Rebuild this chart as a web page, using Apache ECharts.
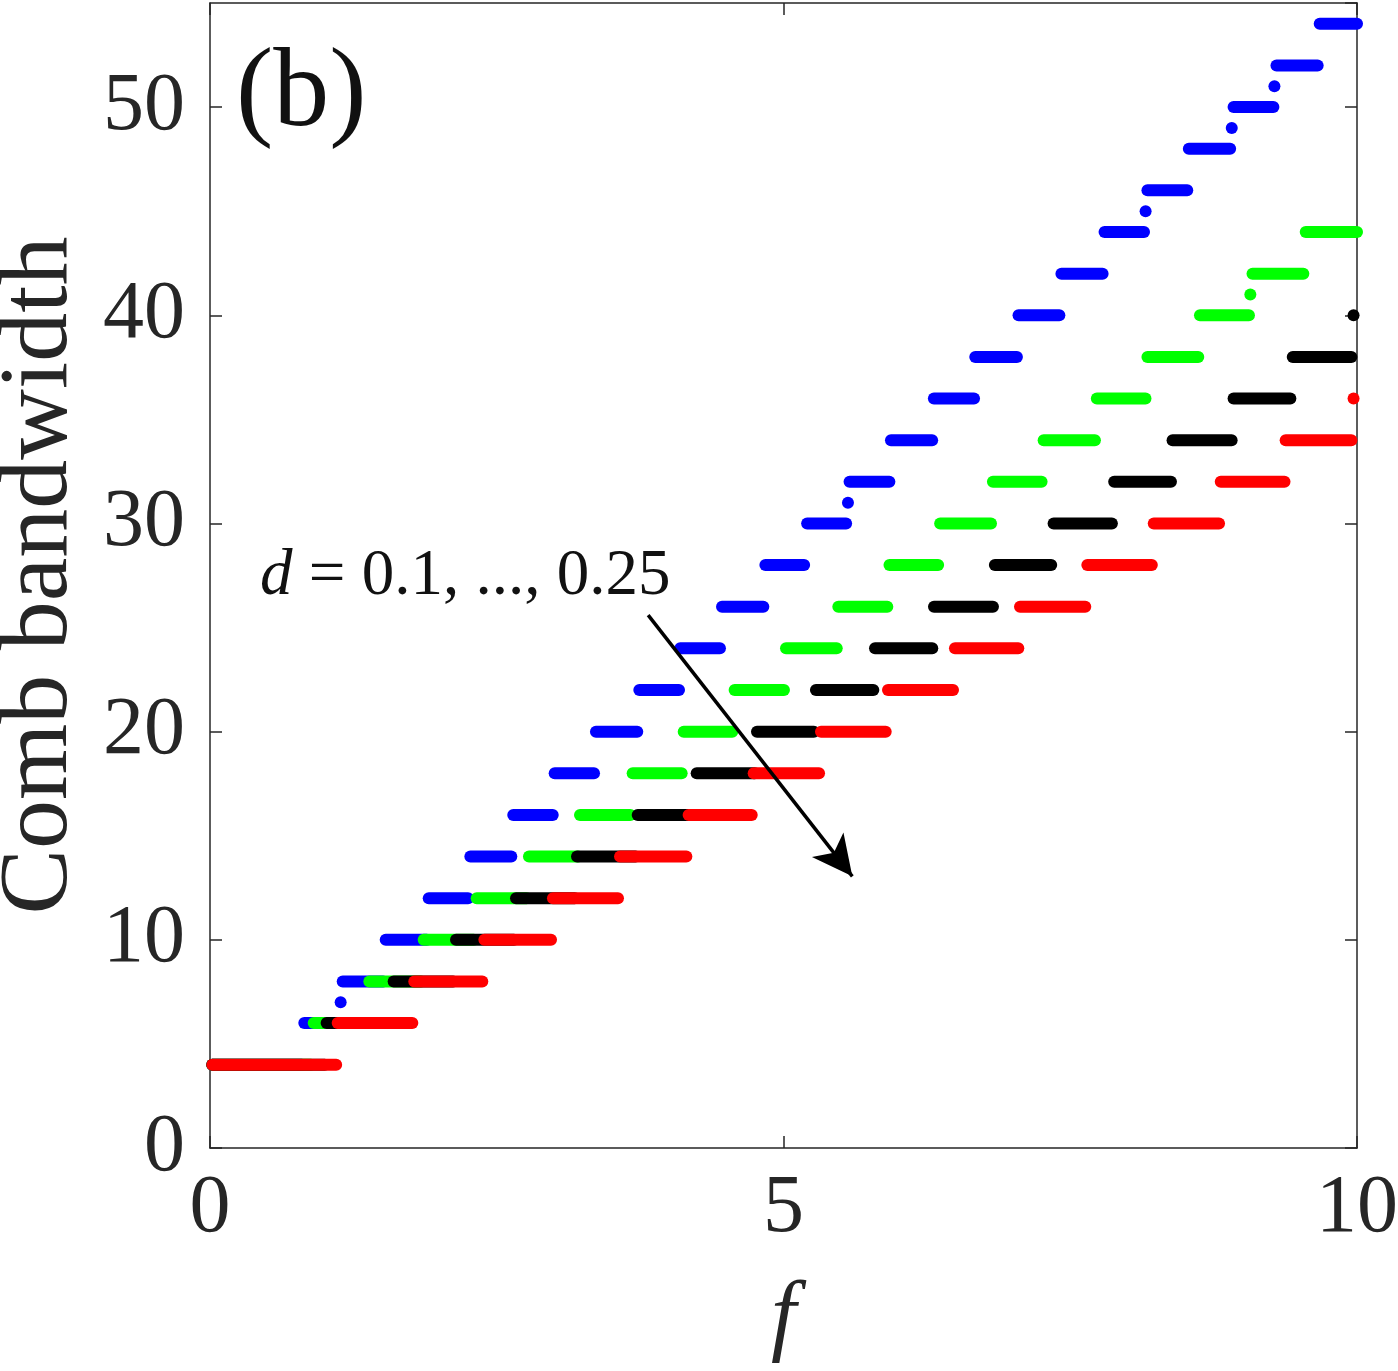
<!DOCTYPE html>
<html lang="en">
<head>
<meta charset="UTF-8">
<title>Comb bandwidth</title>
<style type="text/css">
body,html{
	width: 100%;
	height: 100%;
	margin: 0;
	padding: 0;
	background: #fff;
}
#container{
	width: 1398px;
	height: 1371px;
}
</style>
</head>
<body>
<div id="container"></div>
<script src="https://cdn.jsdelivr.net/npm/echarts@6/dist/echarts.min.js"></script>
<script type="text/javascript">
// steps: [bandwidth, f from, f to]
var stepsD010 = [
	[4, 0.02, 0.80], [6, 0.822, 1.12], [7, 1.139, 1.139], [8, 1.157, 1.51], [10, 1.532, 1.89],
	[12, 1.907, 2.25], [14, 2.270, 2.627], [16, 2.644, 2.988], [18, 3.005, 3.348], [20, 3.365, 3.725],
	[22, 3.743, 4.089], [24, 4.100, 4.446], [26, 4.464, 4.824], [28, 4.842, 5.18], [30, 5.206, 5.546],
	[31, 5.562, 5.562], [32, 5.576, 5.923], [34, 5.937, 6.296], [36, 6.311, 6.661], [38, 6.672, 7.035],
	[40, 7.049, 7.405], [42, 7.423, 7.782], [44, 7.799, 8.143], [45, 8.157, 8.157], [46, 8.173, 8.520],
	[48, 8.534, 8.894], [49, 8.908, 8.908], [50, 8.924, 9.271], [51, 9.28, 9.28], [52, 9.298, 9.657],
	[54, 9.675, 10.0]
];
var stepsD015 = [
	[4, 0.02, 0.88], [6, 0.904, 1.37], [8, 1.389, 1.84], [10, 1.863, 2.30], [12, 2.325, 2.76],
	[14, 2.781, 3.21], [16, 3.226, 3.665], [18, 3.685, 4.112], [20, 4.130, 4.553], [22, 4.574, 5.004],
	[24, 5.022, 5.464], [26, 5.478, 5.905], [28, 5.924, 6.348], [30, 6.366, 6.809], [32, 6.826, 7.250],
	[34, 7.268, 7.715], [36, 7.732, 8.156], [38, 8.173, 8.616], [40, 8.631, 9.058], [41, 9.07, 9.07],
	[42, 9.089, 9.532], [44, 9.553, 10.0]
];
var stepsD020 = [
	[4, 0.02, 1.0], [6, 1.017, 1.58], [8, 1.601, 2.12], [10, 2.145, 2.65], [12, 2.668, 3.18],
	[14, 3.200, 3.71], [16, 3.729, 4.225], [18, 4.243, 4.75], [20, 4.769, 5.265], [22, 5.283, 5.783],
	[24, 5.798, 6.297], [26, 6.312, 6.826], [28, 6.843, 7.334], [30, 7.355, 7.863], [32, 7.883, 8.378],
	[34, 8.392, 8.907], [36, 8.924, 9.419], [38, 9.440, 9.951], [40, 9.97, 9.97]
];
var stepsD025 = [
	[4, 0.02, 1.10], [6, 1.113, 1.764], [8, 1.781, 2.374], [10, 2.392, 2.973], [12, 2.990, 3.557],
	[14, 3.575, 4.153], [16, 4.173, 4.723], [18, 4.740, 5.310], [20, 5.327, 5.891], [22, 5.911, 6.478],
	[24, 6.495, 7.047], [26, 7.062, 7.631], [28, 7.649, 8.211], [30, 8.228, 8.797], [32, 8.812, 9.368],
	[34, 9.378, 9.951], [36, 9.97, 9.97]
];

var seriesNames = ['d = 0.1', 'd = 0.15', 'd = 0.2', 'd = 0.25'];
var seriesColors = ['#0000ff', '#00ff00', '#000000', '#ff0000'];
var seriesSteps = [stepsD010, stepsD015, stepsD020, stepsD025];

// arrow of the annotation, from / to in data coords
var arrowFrom = [3.82, 25.6];
var arrowTo = [5.60, 13.05];

var xRange = [0, 10], xStep = 5;
var yRange = [0, 55], yStep = 10;

var axisColor = '#262626';
var serif = '"Liberation Serif", "DejaVu Serif", serif';

function renderStep(params, api) {
	var a = api.coord([api.value(1), api.value(0)]);
	var b = api.coord([api.value(2), api.value(0)]);
	var color = api.visual('color');
	if (b[0] - a[0] < 1) {
		return { type: 'circle', shape: { cx: a[0], cy: a[1], r: 6 }, style: { fill: color } };
	}
	return {
		type: 'line',
		shape: { x1: a[0], y1: a[1], x2: b[0], y2: b[1] },
		style: { stroke: color, lineWidth: 12, lineCap: 'round' }
	};
}

function boxAxis(pos, range, step) {
	return {
		type: 'value',
		position: pos,
		min: range[0],
		max: range[1],
		interval: step,
		axisLine: { show: true, onZero: false, lineStyle: { color: axisColor, width: 1.5 } },
		axisTick: { show: true, inside: true, length: 12, lineStyle: { color: axisColor, width: 1.5 } },
		axisLabel: { show: false },
		splitLine: { show: false }
	};
}

var series = seriesSteps.map(function (steps, i) {
	return {
		type: 'custom',
		name: seriesNames[i],
		xAxisIndex: 0,
		yAxisIndex: 0,
		clip: false,
		itemStyle: { color: seriesColors[i] },
		renderItem: renderStep,
		encode: { x: [1, 2], y: 0 },
		data: steps
	};
});

series.push({
	type: 'line',
	name: 'arrow',
	data: [],
	silent: true,
	markLine: {
		silent: true,
		symbol: ['none', 'arrow'],
		symbolSize: [30, 40],
		label: { show: false },
		lineStyle: { color: '#000', width: 3.5, type: 'solid' },
		data: [[{ coord: arrowFrom }, { coord: arrowTo }]]
	}
});

var xBottom = boxAxis('bottom', xRange, xStep);
xBottom.axisLabel = { show: true, margin: 20, fontSize: 82, fontFamily: serif, color: axisColor };
xBottom.name = 'f';
xBottom.nameLocation = 'middle';
xBottom.nameGap = 127;
xBottom.nameTextStyle = { fontSize: 90, fontStyle: 'italic', fontFamily: serif, color: axisColor };

var yLeft = boxAxis('left', yRange, yStep);
yLeft.axisLabel = { show: true, margin: 25, fontSize: 82, fontFamily: serif, color: axisColor, showMaxLabel: false };
yLeft.name = 'Comb bandwidth';
yLeft.nameLocation = 'middle';
yLeft.nameRotate = 90;
yLeft.nameGap = 121;
yLeft.nameTextStyle = { fontSize: 98, fontFamily: serif, color: axisColor };

var option = {
	backgroundColor: '#ffffff',
	animation: false,
	grid: { left: 210, right: 41, top: 3, bottom: 223, containLabel: false, outerBoundsMode: 'none' },
	xAxis: [xBottom, boxAxis('top', xRange, xStep)],
	yAxis: [yLeft, boxAxis('right', yRange, yStep)],
	graphic: [
		{
			type: 'text',
			left: 236,
			top: 40,
			style: { text: '(b)', font: '112px ' + serif, fill: '#111' }
		},
		{
			type: 'text',
			left: 260,
			top: 544,
			style: {
				text: '{i|d} = 0.1, ..., 0.25',
				font: '65px ' + serif,
				fill: '#111',
				rich: {
					i: { fontStyle: 'italic', fontSize: 65, fontFamily: serif, fill: '#111' }
				}
			}
		}
	],
	series: series
};

var chart = echarts.init(document.getElementById('container'));
chart.setOption(option, true);
window.addEventListener('resize', function () {
	chart.resize();
});
</script>
</body>
</html>
